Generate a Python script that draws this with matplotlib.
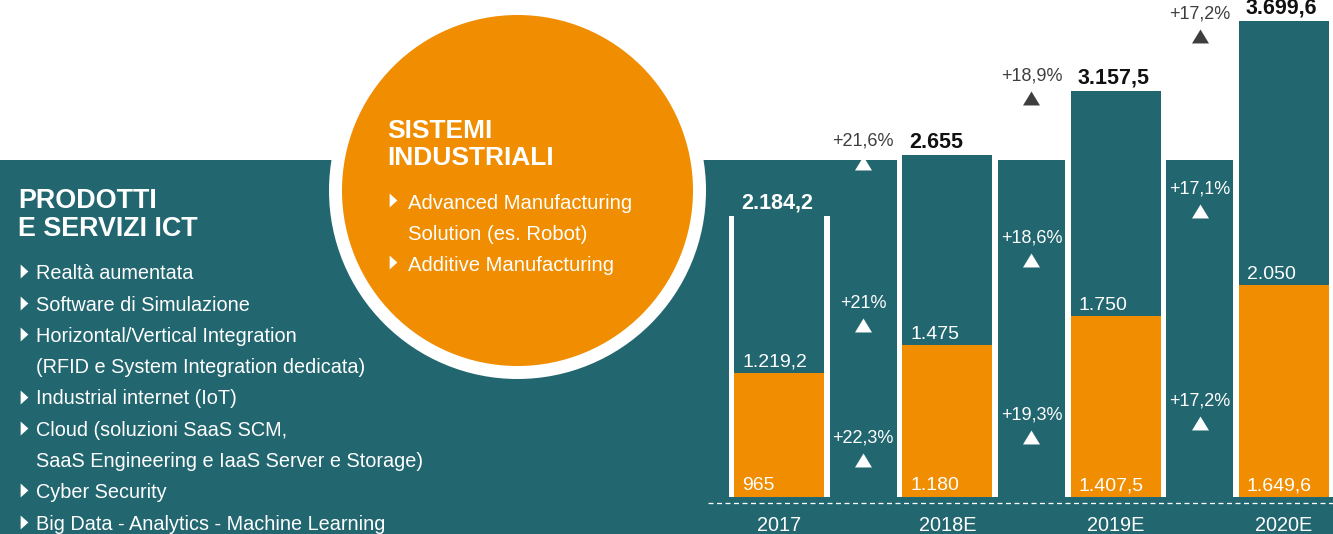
import numpy as np
import matplotlib
matplotlib.use('Agg')
import matplotlib.pyplot as plt
from matplotlib.patches import Rectangle, Circle

plt.rcParams['font.family'] = ['Liberation Sans', 'DejaVu Sans']
plt.rcParams['lines.scale_dashes'] = False

# ---------------- data ----------------
years = ['2017', '2018E', '2019E', '2020E']
ict_values = [1219.2, 1475, 1750, 2050]            # Prodotti e servizi ICT (teal)
industrial_values = [965, 1180, 1407.5, 1649.6]     # Sistemi industriali (orange)
total_growth = [21.6, 18.9, 17.2]
ict_growth = [21, 18.6, 17.1]
industrial_growth = [22.3, 19.3, 17.2]

ict_title = ['PRODOTTI', 'E SERVIZI ICT']
ict_items = [
    ('Realtà aumentata', True),
    ('Software di Simulazione', True),
    ('Horizontal/Vertical Integration', True),
    ('(RFID e System Integration dedicata)', False),
    ('Industrial internet (IoT)', True),
    ('Cloud (soluzioni SaaS SCM,', True),
    ('SaaS Engineering e IaaS Server e Storage)', False),
    ('Cyber Security', True),
    ('Big Data - Analytics - Machine Learning', True),
]
ind_title = ['SISTEMI', 'INDUSTRIALI']
ind_items = [
    ('Advanced Manufacturing', True),
    ('Solution (es. Robot)', False),
    ('Additive Manufacturing', True),
]

# ---------------- style / layout ----------------
TEAL = '#22666F'
ORANGE = '#F08D00'
DARK = '#3E3E3E'
BLACK = '#111111'
WHITE = 'white'

W, H, DPI = 1333, 534, 100
PT = 72.0 / DPI                 # points per pixel
PX_PER_UNIT = 0.1287            # vertical scale of the bars
BASE_PX = 497                   # baseline, pixels from top
X0_PX, STEP_PX = 779, 168.33    # first bar centre, bar spacing
TEAL_TOP_PX = 160
GROWTH_MID_Y = [1470, 1980, 2360]
GROWTH_LOW_Y = [425, 600, 710]

fig = plt.figure(figsize=(W / DPI, H / DPI), dpi=DPI)
bg = fig.add_axes([0, 0, 1, 1])
bg.set_xlim(0, W)
bg.set_ylim(H, 0)
bg.axis('off')

ax = fig.add_axes([0, 0, 1, 1])
ax.patch.set_alpha(0)
ax.axis('off')
ax.set_xlim(-X0_PX / STEP_PX, (W - X0_PX) / STEP_PX)
ax.set_ylim(-(H - BASE_PX) / PX_PER_UNIT, BASE_PX / PX_PER_UNIT)


def fmt(v):
    s = f"{int(v):,}" if float(v).is_integer() else f"{v:,.1f}"
    return s.replace(',', 'X').replace('.', ',').replace('X', '.')


# ---------------- background panels ----------------
bg.add_patch(Rectangle((0, TEAL_TOP_PX), W, H - TEAL_TOP_PX, color=TEAL, lw=0, zorder=0))
cx, cy = 517.5, 190.5
bg.add_patch(Circle((cx, cy), 188.5, color=WHITE, lw=0, zorder=1))
bg.add_patch(Circle((cx, cy), 175.5, color=ORANGE, lw=0, zorder=2))

tri_right = [(-0.55, -1), (-0.55, 1), (0.55, 0)]
tri_up = [(-1, -0.82), (1, -0.82), (0, 0.82)]

# left panel text
for i, t in enumerate(ict_title):
    bg.text(18, 208.3 + 28 * i, t, fontsize=19.4, fontweight='bold', color=WHITE,
            ha='left', va='baseline', zorder=3)
for i, (t, bullet) in enumerate(ict_items):
    yb = 279.3 + 31.3 * i
    bg.text(36, yb, t, fontsize=14.3, color=WHITE, ha='left', va='baseline', zorder=3)
    if bullet:
        bg.plot(24, yb - 8, marker=tri_right, markersize=14 * PT, color=WHITE,
                markeredgewidth=0, linestyle='none', zorder=3)

# circle text
for i, t in enumerate(ind_title):
    bg.text(387, 138 + 27 * i, t, fontsize=19, fontweight='bold', color=WHITE,
            ha='left', va='baseline', zorder=3)
for i, (t, bullet) in enumerate(ind_items):
    yb = 209.3 + 30.7 * i
    bg.text(408, yb, t, fontsize=14.6, color=WHITE, ha='left', va='baseline', zorder=3)
    if bullet:
        bg.plot(393, yb - 9, marker=tri_right, markersize=14 * PT, color=WHITE,
                markeredgewidth=0, linestyle='none', zorder=3)

# ---------------- bars ----------------
x = np.arange(len(years))
bw = 90 / STEP_PX
gap = 5.5 / STEP_PX
totals = np.add(ict_values, industrial_values)
teal_top_val = (BASE_PX - TEAL_TOP_PX) / PX_PER_UNIT

ax.bar(x, np.minimum(totals, teal_top_val), width=bw + 2 * gap, color=WHITE, lw=0, zorder=1)
ax.bar(x, totals, width=bw, color=TEAL, lw=0, zorder=2)
ax.bar(x, industrial_values, width=bw, color=ORANGE, lw=0, zorder=3)

for xi, tot, ict, ind in zip(x, totals, ict_values, industrial_values):
    left = xi - bw / 2
    ax.annotate(fmt(round(tot, 1)), (left, tot), xytext=(7 * PT, 7 * PT),
                textcoords='offset points', ha='left', va='baseline',
                fontsize=15.5, fontweight='bold',
                color=WHITE if tot < teal_top_val else BLACK, zorder=5)
    ax.annotate(fmt(ict), (left, ind), xytext=(8 * PT, 6 * PT),
                textcoords='offset points', ha='left', va='baseline',
                fontsize=14, color=WHITE, zorder=5)
    ax.annotate(fmt(ind), (left, 0), xytext=(8 * PT, 6.5 * PT),
                textcoords='offset points', ha='left', va='baseline',
                fontsize=14, color=WHITE, zorder=5)

# ---------------- growth labels ----------------
top_clamp = (BASE_PX - 18.5) / PX_PER_UNIT
tri_drop = 17.5 / PX_PER_UNIT
for i in range(len(total_growth)):
    xg = i + 0.5
    yb = min(totals[i + 1] + 10 / PX_PER_UNIT, top_clamp)
    ax.text(xg, yb, '+' + fmt(total_growth[i]) + '%', ha='center', va='baseline',
            fontsize=13, color=DARK, zorder=5)
    ytri = yb - tri_drop
    ax.plot(xg, ytri, marker=tri_up, markersize=17 * PT, linestyle='none',
            markeredgewidth=0, color=WHITE if ytri < teal_top_val else DARK, zorder=5)

    for ylab, g in ((GROWTH_MID_Y[i], ict_growth[i]), (GROWTH_LOW_Y[i], industrial_growth[i])):
        ax.text(xg, ylab, '+' + fmt(g) + '%', ha='center', va='baseline',
                fontsize=13, color=WHITE, zorder=5)
        ax.plot(xg, ylab - tri_drop, marker=tri_up, markersize=17 * PT, linestyle='none',
                markeredgewidth=0, color=WHITE, zorder=5)

# ---------------- baseline & years ----------------
y_dash = -5.5 / PX_PER_UNIT
ax.plot([(708 - X0_PX) / STEP_PX, (W - X0_PX) / STEP_PX], [y_dash, y_dash],
        color=WHITE, lw=1.3 * PT, dashes=(5 * PT, 3.5 * PT), zorder=4)
for xi, yr in zip(x, years):
    ax.annotate(yr, (xi, 0), xytext=(0, -34 * PT), textcoords='offset points',
                ha='center', va='baseline', fontsize=14.3, color=WHITE, zorder=5)

fig.savefig('out.png', dpi=DPI)
